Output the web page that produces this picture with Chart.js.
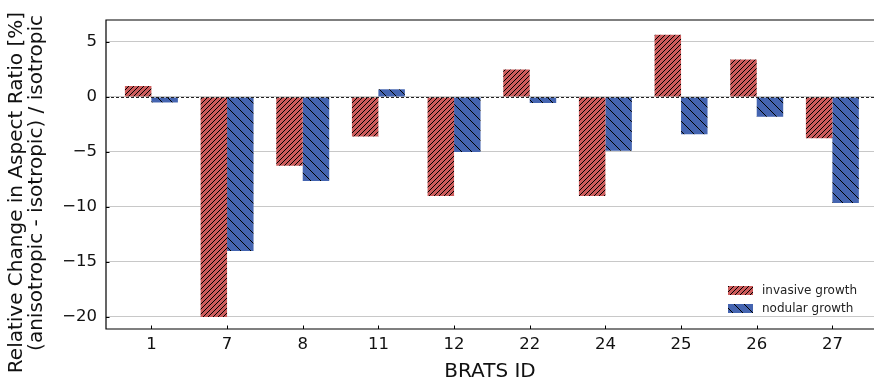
<!DOCTYPE html>
<html><head><meta charset="utf-8">
<script src="https://cdn.jsdelivr.net/npm/chart.js@4/dist/chart.umd.min.js"></script>
<style>html,body{margin:0;padding:0;background:#fff;overflow:hidden}#wrap{width:874px;height:386px}</style>
</head><body><div id="wrap"><canvas id="c" width="874" height="386"></canvas></div>
<script>
const categories = ['1','7','8','11','12','22','24','25','26','27'];
const invasiveGrowth = [1.0,-20.0,-6.25,-3.6,-9.0,2.5,-9.0,5.65,3.4,-3.75];
const nodularGrowth = [-0.5,-14.0,-7.65,0.7,-5.0,-0.55,-4.9,-3.4,-1.8,-9.65];
const yTicks = [5,0,-5,-10,-15,-20];
const seriesNames = ['invasive growth','nodular growth'];
const yTitleLines = ['Relative Change in Aspect Ratio [%]','(anisotropic - isotropic) / isotropic'];
const xTitle = 'BRATS ID';

const FONT = "'DejaVu Sans', sans-serif";
const canvas = document.getElementById('c');
const ctx = canvas.getContext('2d');

function hatch(bg, size, dir){
  const c = document.createElement('canvas');
  c.width = c.height = size;
  const g = c.getContext('2d');
  g.fillStyle = bg; g.fillRect(0,0,size,size);
  g.strokeStyle = '#000'; g.lineWidth = 1;
  g.beginPath();
  if (dir === '/') {
    g.moveTo(-1,size+1); g.lineTo(size+1,-1);
    g.moveTo(-1,1); g.lineTo(1,-1);
    g.moveTo(size-1,size+1); g.lineTo(size+1,size-1);
  } else {
    g.moveTo(-1,-1); g.lineTo(size+1,size+1);
    g.moveTo(size-1,-1); g.lineTo(size+1,1);
    g.moveTo(-1,size-1); g.lineTo(1,size+1);
  }
  g.stroke();
  return ctx.createPattern(c,'repeat');
}
const redPat = hatch('#CD5C5C', 5, '/');
const bluePat = hatch('#4464B0', 10, '\\');

const decor = {
  id: 'decor',
  afterDatasetsDraw(chart){
    const c = chart.ctx, a = chart.chartArea;
    const ys = chart.scales.y, xs = chart.scales.x;
    c.save();
    const y0 = Math.round(ys.getPixelForValue(0)) + 0.5;
    c.strokeStyle = '#222'; c.lineWidth = 1; c.setLineDash([3,2]);
    c.beginPath(); c.moveTo(a.left, y0); c.lineTo(a.right, y0); c.stroke();
    c.setLineDash([]);
    c.strokeStyle = '#000'; c.lineWidth = 1.2;
    c.beginPath();
    c.moveTo(a.right, a.top); c.lineTo(a.left, a.top); c.lineTo(a.left, a.bottom); c.lineTo(a.right, a.bottom);
    c.stroke();
    c.lineWidth = 1;
    c.beginPath();
    yTicks.forEach(v => { const y = Math.round(ys.getPixelForValue(v)) + 0.5; c.moveTo(a.left, y); c.lineTo(a.left + 3.5, y); });
    categories.forEach((_, i) => { const x = Math.round(xs.getPixelForValue(i)) + 0.5; c.moveTo(x, a.bottom); c.lineTo(x, a.bottom - 3.5); });
    c.stroke();
    const pats = [redPat, bluePat];
    c.font = '12px ' + FONT; c.textBaseline = 'middle'; c.textAlign = 'left';
    seriesNames.forEach((n, i) => {
      const py = 286 + i * 18;
      c.fillStyle = pats[i]; c.fillRect(728, py, 25, 9);
      c.fillStyle = '#222'; c.fillText(n, 762, py + 5);
    });
    c.font = '20px ' + FONT; c.fillStyle = '#111'; c.textAlign = 'right'; c.textBaseline = 'middle';
    [[17,12],[37,15]].forEach((p, i) => {
      c.save(); c.translate(p[0], p[1]); c.rotate(-Math.PI/2); c.fillText(yTitleLines[i], 0, 0); c.restore();
    });
    c.restore();
  }
};

new Chart(ctx, {
  type: 'bar',
  data: {
    datasets: [
      { label: seriesNames[0], data: invasiveGrowth.map((v,i)=>({x:i,y:v})), backgroundColor: redPat, borderWidth: 0, categoryPercentage: 0.7, barPercentage: 1.0 },
      { label: seriesNames[1], data: nodularGrowth.map((v,i)=>({x:i,y:v})), backgroundColor: bluePat, borderWidth: 0, categoryPercentage: 0.7, barPercentage: 1.0 }
    ]
  },
  options: {
    responsive: false, animation: false, devicePixelRatio: 1,
    layout: { padding: { top: 20, left: 0, right: 0, bottom: 0 } },
    plugins: { legend: { display: false }, tooltip: { enabled: false } },
    scales: {
      x: {
        type: 'linear', min: -0.6, max: 9.55, offset: false,
        afterBuildTicks: s => { s.ticks = categories.map((_, i) => ({ value: i })); },
        afterFit: s => { s.height = 57; },
        grid: { display: false, drawTicks: false },
        border: { display: false },
        ticks: { callback: v => categories[v], font: { family: FONT, size: 16.5 }, color: '#111', padding: 6, maxRotation: 0, autoSkip: false },
        title: { display: true, text: xTitle, font: { family: FONT, size: 20 }, color: '#111', padding: { top: 0, bottom: 2 } }
      },
      y: {
        min: -21.1, max: 7.0,
        afterBuildTicks: s => { s.ticks = yTicks.map(v => ({ value: v })); },
        afterFit: s => { s.width = 106; },
        grid: { color: '#c8c8c8', lineWidth: 1, drawTicks: false },
        border: { display: false },
        ticks: { callback: v => (v < 0 ? '\u2212' + Math.abs(v) : String(v)), font: { family: FONT, size: 16.5 }, color: '#111', padding: 9 }
      }
    }
  },
  plugins: [decor]
});
</script></body></html>
